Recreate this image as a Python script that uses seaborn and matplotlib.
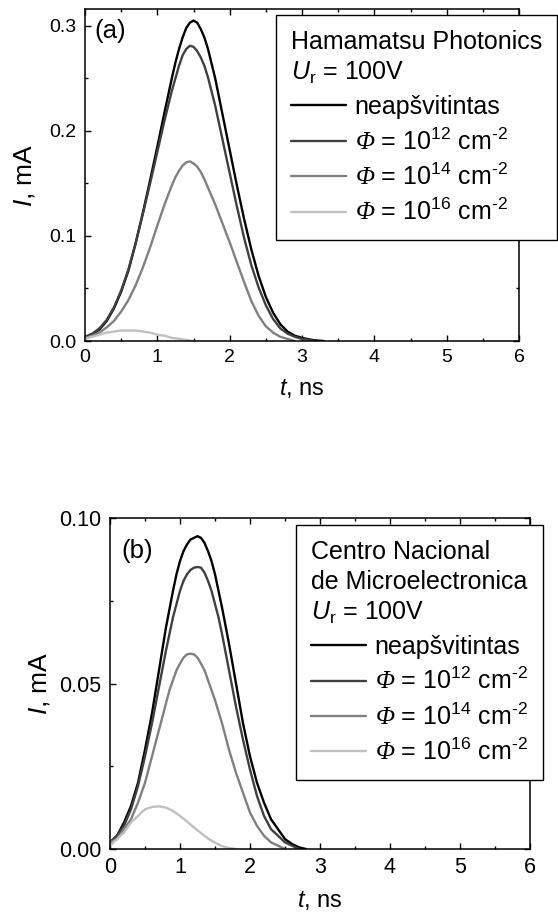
import numpy as np
import pandas as pd
import matplotlib
matplotlib.use("Agg")
import matplotlib.pyplot as plt
from matplotlib.ticker import MultipleLocator
import seaborn as sns

# --- Data (t in ns, I in mA) ---
# panel (a): Hamamatsu Photonics
a_t_unirr = [0, 0.1, 0.2, 0.3, 0.4, 0.5, 0.6, 0.7, 0.8, 0.9, 1.0, 1.1, 1.2,
             1.25, 1.3, 1.35, 1.4, 1.45, 1.5, 1.55, 1.6, 1.65, 1.7,
             1.8, 1.9, 2.0, 2.1, 2.2, 2.3, 2.4, 2.5, 2.6, 2.7, 2.8, 2.9, 3.0, 3.1, 3.2, 3.3]
a_unirr = [0.003, 0.006, 0.011, 0.019, 0.031, 0.047, 0.067, 0.093, 0.122, 0.153, 0.185, 0.218, 0.250,
           0.265, 0.278, 0.289, 0.298, 0.303, 0.305, 0.303, 0.297, 0.289, 0.278,
           0.250, 0.216, 0.182, 0.148, 0.116, 0.087, 0.062, 0.042, 0.027, 0.016, 0.009, 0.005,
           0.003, 0.0015, 0.0005, 0.0]
a_t_phi12 = [0, 0.1, 0.2, 0.3, 0.4, 0.5, 0.6, 0.7, 0.8, 0.9, 1.0, 1.1, 1.2,
             1.25, 1.3, 1.35, 1.4, 1.45, 1.5, 1.55, 1.6, 1.65, 1.7,
             1.8, 1.9, 2.0, 2.1, 2.2, 2.3, 2.4, 2.5, 2.6, 2.7, 2.8, 2.9, 3.0, 3.1, 3.2]
a_phi12 = [0.004, 0.007, 0.012, 0.020, 0.032, 0.048, 0.068, 0.093, 0.121, 0.150, 0.180, 0.210, 0.238,
           0.250, 0.262, 0.272, 0.278, 0.281, 0.280, 0.276, 0.270, 0.262, 0.251,
           0.224, 0.192, 0.160, 0.128, 0.098, 0.072, 0.051, 0.034, 0.021, 0.012, 0.007, 0.004,
           0.002, 0.001, 0.0]
a_t_phi14 = [0, 0.1, 0.2, 0.3, 0.4, 0.5, 0.6, 0.7, 0.8, 0.9, 1.0, 1.1,
             1.15, 1.2, 1.25, 1.3, 1.35, 1.4, 1.45, 1.5, 1.55, 1.6, 1.65, 1.7,
             1.8, 1.9, 2.0, 2.1, 2.2, 2.3, 2.4, 2.5, 2.6, 2.7, 2.8, 2.9]
a_phi14 = [0.003, 0.005, 0.008, 0.013, 0.019, 0.028, 0.039, 0.053, 0.070, 0.089, 0.110, 0.130,
           0.139, 0.148, 0.156, 0.162, 0.167, 0.170, 0.171, 0.169, 0.166, 0.161, 0.154, 0.146,
           0.130, 0.112, 0.094, 0.075, 0.056, 0.038, 0.024, 0.014, 0.008, 0.004, 0.002, 0.0]
a_t_phi16 = [0, 0.1, 0.2, 0.3, 0.4, 0.5, 0.6, 0.7, 0.8, 0.9, 1.0, 1.1, 1.2, 1.3, 1.4, 1.5]
a_phi16 = [0.002, 0.004, 0.006, 0.008, 0.009, 0.010, 0.010, 0.010, 0.009, 0.008,
           0.006, 0.005, 0.003, 0.002, 0.001, 0.0]

# panel (b): Centro Nacional de Microelectronica
b_t_unirr = [0, 0.1, 0.2, 0.3, 0.4, 0.5, 0.6, 0.7, 0.8, 0.9,
             0.95, 1.0, 1.05, 1.1, 1.15, 1.2, 1.25, 1.3, 1.35, 1.4, 1.45, 1.5, 1.55, 1.6,
             1.7, 1.8, 1.9, 2.0, 2.1, 2.2, 2.3, 2.4, 2.5, 2.6, 2.7, 2.8]
b_unirr = [0.002, 0.004, 0.008, 0.013, 0.020, 0.030, 0.041, 0.054, 0.067, 0.078,
           0.083, 0.087, 0.090, 0.092, 0.0935, 0.094, 0.0945, 0.094, 0.0925, 0.090, 0.087, 0.083,
           0.078, 0.073,
           0.062, 0.050, 0.038, 0.028, 0.020, 0.014, 0.009, 0.006, 0.003, 0.0015, 0.0005, 0.0]
b_t_phi12 = [0, 0.1, 0.2, 0.3, 0.4, 0.5, 0.6, 0.7, 0.8, 0.9,
             0.95, 1.0, 1.05, 1.1, 1.15, 1.2, 1.25, 1.3, 1.35, 1.4, 1.45, 1.5, 1.55, 1.6,
             1.7, 1.8, 1.9, 2.0, 2.1, 2.2, 2.3, 2.4, 2.5, 2.6, 2.7]
b_phi12 = [0.002, 0.004, 0.007, 0.012, 0.019, 0.028, 0.038, 0.049, 0.060, 0.070,
           0.074, 0.078, 0.081, 0.083, 0.0843, 0.085, 0.0852, 0.085, 0.0835, 0.081, 0.078, 0.074,
           0.070, 0.065,
           0.054, 0.043, 0.033, 0.024, 0.016, 0.010, 0.006, 0.004, 0.002, 0.001, 0.0]
b_t_phi14 = [0, 0.1, 0.2, 0.3, 0.4, 0.5, 0.6, 0.7, 0.8,
             0.85, 0.9, 0.95, 1.0, 1.05, 1.1, 1.15, 1.2, 1.25, 1.3, 1.35, 1.4, 1.45, 1.5,
             1.6, 1.7, 1.8, 1.9, 2.0, 2.1, 2.2, 2.3, 2.4, 2.5]
b_phi14 = [0.002, 0.003, 0.006, 0.009, 0.014, 0.020, 0.028, 0.036, 0.044,
           0.048, 0.051, 0.054, 0.056, 0.0578, 0.0588, 0.059, 0.0588, 0.0578, 0.056, 0.054, 0.051,
           0.048, 0.045,
           0.038, 0.030, 0.023, 0.017, 0.011, 0.007, 0.004, 0.002, 0.001, 0.0]
b_t_phi16 = [0, 0.1, 0.2, 0.3, 0.4, 0.5, 0.6, 0.7, 0.8, 0.9, 1.0, 1.1, 1.2, 1.3, 1.4, 1.5,
             1.6, 1.7, 1.8]
b_phi16 = [0.001, 0.003, 0.005, 0.008, 0.010, 0.012, 0.0127, 0.0129, 0.0125, 0.0115,
           0.010, 0.0083, 0.0065, 0.0048, 0.0032, 0.0019, 0.0009, 0.0003, 0.0]

labels = ["neapšvitintas",
          "$\\mathcal{\\Phi}$ = 10$^{12}$ cm$^{\u20102}$",
          "$\\mathcal{\\Phi}$ = 10$^{14}$ cm$^{\u20102}$",
          "$\\mathcal{\\Phi}$ = 10$^{16}$ cm$^{\u20102}$"]
colors = ["#000000", "#404040", "#808080", "#c0c0c0"]

sns.set_style("ticks")
plt.rcParams["font.family"] = ["Liberation Sans", "DejaVu Sans"]
plt.rcParams["mathtext.fontset"] = "custom"
plt.rcParams["mathtext.rm"] = "Liberation Sans"
plt.rcParams["mathtext.it"] = "Liberation Sans:italic"
plt.rcParams["mathtext.bf"] = "Liberation Sans:bold"
plt.rcParams["mathtext.cal"] = "Liberation Serif:italic"
for key in ["text.color", "axes.labelcolor", "xtick.color", "ytick.color", "axes.edgecolor"]:
    plt.rcParams[key] = "black"


def draw_panel(ax, curves, ylim, ymajor, tick_fs, tag, tag_xy, title, leg_anchor, ylpad):
    for (ts, vals), lab, col in zip(curves, labels, colors):
        df = pd.DataFrame({"t": ts, "I": vals})
        sns.lineplot(data=df, x="t", y="I", color=col, lw=1.7, label=lab, ax=ax)
    for ln in ax.lines:
        ln.set_solid_joinstyle("round")
    ax.set_xlim(0, 6)
    ax.set_ylim(*ylim)
    ax.xaxis.set_major_locator(MultipleLocator(1))
    ax.xaxis.set_minor_locator(MultipleLocator(0.5))
    ax.yaxis.set_major_locator(MultipleLocator(ymajor))
    ax.yaxis.set_minor_locator(MultipleLocator(ymajor / 2))
    ax.tick_params(which="both", direction="in", top=True, right=True, width=1.0,
                   labelsize=tick_fs, pad=6, colors="black")
    ax.tick_params(which="major", length=4)
    ax.tick_params(which="minor", length=2.5)
    for sp in ax.spines.values():
        sp.set_linewidth(1.1)
        sp.set_color("black")
    ax.set_xlabel(r"$t$, ns", fontsize=17, labelpad=8)
    ax.set_ylabel(r"$I$, mA", fontsize=19, labelpad=ylpad)
    ax.text(tag_xy[0], tag_xy[1], tag, transform=ax.transAxes, fontsize=18.5,
            ha="left", va="center")
    handles, labs = ax.get_legend_handles_labels()
    leg = ax.legend(handles, labs, title=title, loc="upper left",
                    bbox_to_anchor=leg_anchor, bbox_transform=fig.transFigure,
                    borderaxespad=0, fontsize=18, title_fontsize=18,
                    frameon=True, fancybox=False, framealpha=1, edgecolor="black",
                    handlelength=2.2, handletextpad=0.35, labelspacing=0.36,
                    borderpad=0.6, alignment="left")
    leg.get_title().set_linespacing(1.3)
    leg.get_frame().set_linewidth(1.0)
    for h in leg.legend_handles:
        h.set_linewidth(1.7)


fig = plt.figure(figsize=(5.58, 9.18), dpi=100)
ax_a = fig.add_axes([85 / 558, 1 - 341 / 918, 434 / 558, 332 / 918])
ax_b = fig.add_axes([110 / 558, 1 - 849 / 918, 420 / 558, 331 / 918])

draw_panel(ax_a,
           [(a_t_unirr, a_unirr), (a_t_phi12, a_phi12), (a_t_phi14, a_phi14), (a_t_phi16, a_phi16)],
           (0, 0.316), 0.1, 14, "(a)", (0.022, 0.934),
           "Hamamatsu Photonics\n$U_\\mathrm{r}$ = 100V",
           (276 / 558, 1 - 15 / 918), 9)
draw_panel(ax_b,
           [(b_t_unirr, b_unirr), (b_t_phi12, b_phi12), (b_t_phi14, b_phi14), (b_t_phi16, b_phi16)],
           (0, 0.10), 0.05, 15.5, "(b)", (0.027, 0.90),
           "Centro Nacional\nde Microelectronica\n$U_\\mathrm{r}$ = 100V",
           (296 / 558, 1 - 525 / 918), 5)

fig.savefig("out.png", dpi=100)
